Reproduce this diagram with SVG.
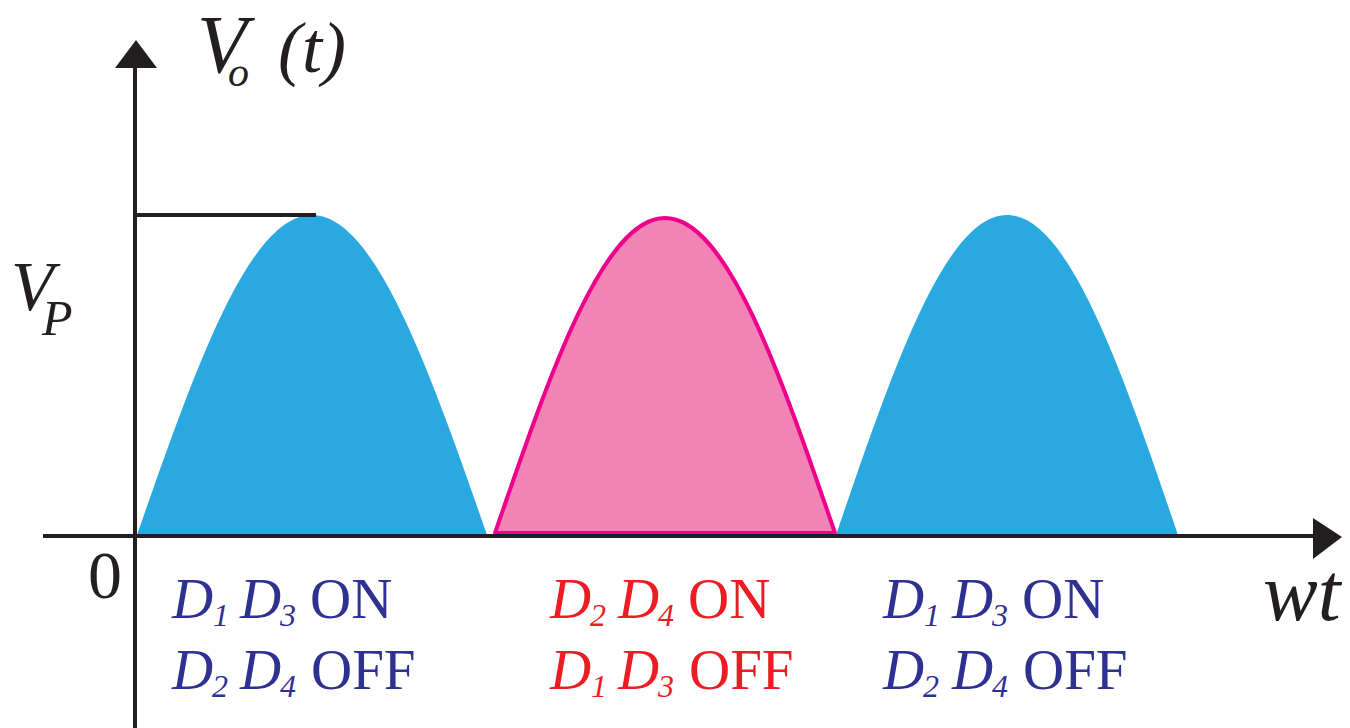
<svg xmlns="http://www.w3.org/2000/svg" width="1350" height="728" viewBox="0 0 1350 728">
<style>
.ax{stroke:#231F20;stroke-width:4;fill:none}
.head{fill:#231F20}
.blue{fill:#29A9E0}
.pink{fill:#F184B4;stroke:#EC008C;stroke-width:4;stroke-linejoin:round}
.t{fill:#231F20}
.i{font-style:italic}
.lb{font-size:57px}
.sub{font-size:32px}
.bl{fill:#2E3192}
.rd{fill:#ED1C24}
</style>
<g id="humps">
<path id="hump1" class="blue" d="M137,535 C194.07,371.1 248.66,215 312,215 C375.34,215 429.93,371.1 487,535 Z"/>
<path id="hump2" class="pink" d="M495,533 C550.44,371.6 603.48,218 665,218 C726.52,218 779.56,371.6 835,533 Z"/>
<path id="hump3" class="blue" d="M836,535 C891.77,371.1 945.11,215 1007,215 C1068.89,215 1122.23,371.1 1178,535 Z"/>
</g>
<g id="axes">
<line class="ax" x1="135" y1="64" x2="135" y2="728"/>
<polygon class="head" points="136,40 115,68 157,68"/>
<line class="ax" x1="43" y1="536" x2="1316" y2="536"/>
<polygon class="head" points="1342,537 1313,518 1313,559"/>
<line class="ax" x1="135" y1="215" x2="316" y2="215"/>
</g>
<g id="axis-labels" font-family="Liberation Serif, serif">
<text class="t i" x="197" y="72" font-size="82">V<tspan font-size="42" x="228" y="86">o</tspan></text>
<text class="t i" x="278" y="72" font-size="72">(t)</text>
<text class="t i" x="11" y="310" font-size="70">V<tspan font-size="50" x="42" y="335">P</tspan></text>
<text class="t" x="88" y="598" font-size="68">0</text>
<text class="t i" x="1263" y="620" font-size="82">wt</text>
</g>
<g id="label1" class="lb bl" font-family="Liberation Serif, serif">
<text y="618"><tspan class="i" x="172">D</tspan><tspan class="i sub" x="213" dy="8">1</tspan><tspan class="i" x="240" dy="-8">D</tspan><tspan class="i sub" x="280" dy="8">3</tspan><tspan x="310" dy="-8">ON</tspan></text>
<text y="689"><tspan class="i" x="172">D</tspan><tspan class="i sub" x="212" dy="8">2</tspan><tspan class="i" x="240" dy="-8">D</tspan><tspan class="i sub" x="280" dy="8">4</tspan><tspan x="311" dy="-8">OFF</tspan></text>
</g>
<g id="label2" class="lb rd" font-family="Liberation Serif, serif">
<text y="618"><tspan class="i" x="550">D</tspan><tspan class="i sub" x="590" dy="8">2</tspan><tspan class="i" x="618" dy="-8">D</tspan><tspan class="i sub" x="658" dy="8">4</tspan><tspan x="688" dy="-8">ON</tspan></text>
<text y="689"><tspan class="i" x="550">D</tspan><tspan class="i sub" x="591" dy="8">1</tspan><tspan class="i" x="618" dy="-8">D</tspan><tspan class="i sub" x="658" dy="8">3</tspan><tspan x="689" dy="-8">OFF</tspan></text>
</g>
<g id="label3" class="lb bl" font-family="Liberation Serif, serif">
<text y="618"><tspan class="i" x="883">D</tspan><tspan class="i sub" x="924" dy="8">1</tspan><tspan class="i" x="952" dy="-8">D</tspan><tspan class="i sub" x="992" dy="8">3</tspan><tspan x="1022" dy="-8">ON</tspan></text>
<text y="689"><tspan class="i" x="883">D</tspan><tspan class="i sub" x="923" dy="8">2</tspan><tspan class="i" x="952" dy="-8">D</tspan><tspan class="i sub" x="992" dy="8">4</tspan><tspan x="1023" dy="-8">OFF</tspan></text>
</g>
</svg>
